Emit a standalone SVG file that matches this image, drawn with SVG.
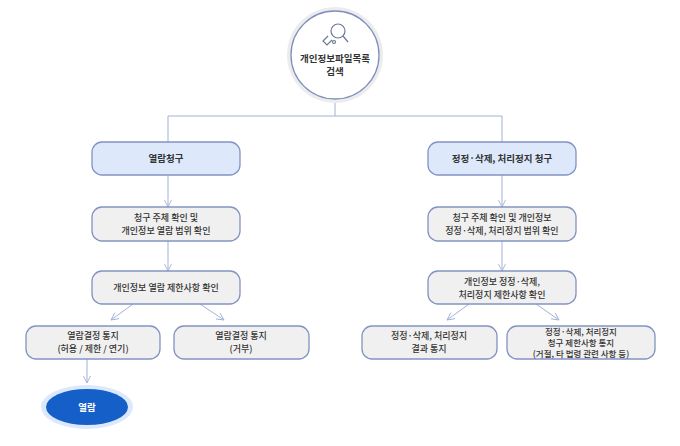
<svg xmlns="http://www.w3.org/2000/svg" width="680" height="446" viewBox="0 0 680 446">
<defs>
<style>
.b{fill:#f0f0f0;stroke:#8293c2;stroke-width:1.3}
.h{fill:#dde9fb;stroke:#8293c2;stroke-width:1.3}
.t{font-family:"Noto Sans CJK KR","Noto Sans",sans-serif;font-size:9px;fill:#333;text-anchor:middle;font-weight:500}
.s{font-size:8.5px}
.k{font-weight:700;font-size:9.5px}
.c{fill:none;stroke:#a3b1d6;stroke-width:1}
</style>
<marker id="a" viewBox="0 0 10 10" refX="9" refY="5" markerWidth="9" markerHeight="9" orient="auto" markerUnits="userSpaceOnUse"><path d="M1,1 L9,5 L1,9" fill="none" stroke="#a3b1d6" stroke-width="1"/></marker>
</defs>
<rect width="680" height="446" fill="#fff"/>
<g id="connectors">
<path class="c" d="M335,100 V116 M168,116 H502 M168,116 V142 M502,116 V142"/>
<path class="c" d="M168,175 V207" marker-end="url(#a)"/>
<path class="c" d="M168,241 V271" marker-end="url(#a)"/>
<path class="c" d="M502,175 V207" marker-end="url(#a)"/>
<path class="c" d="M502,241 V271" marker-end="url(#a)"/>
<path class="c" d="M133,304 L111,320" marker-end="url(#a)"/>
<path class="c" d="M200,304 L224,320" marker-end="url(#a)"/>
<path class="c" d="M469,304 L447,320" marker-end="url(#a)"/>
<path class="c" d="M536,304 L559,320" marker-end="url(#a)"/>
<path class="c" d="M87,359 V383" marker-end="url(#a)"/>
</g>
<g id="root">
<circle cx="335" cy="55" r="48" fill="#ececec"/>
<circle cx="335" cy="55" r="44" fill="#fff" stroke="#7f90c0" stroke-width="1.3"/>
<g fill="none" stroke="#6a7796" stroke-width="1.2">
<circle cx="338" cy="31" r="7"/>
<path d="M343,36 L348,42"/>
<path d="M328,36 L323,41 L327,45 L332,40"/>
<circle cx="334" cy="42" r="1.5"/>
</g>
<text class="t k" x="335" y="62">개인정보파일목록</text>
<text class="t k" x="335" y="75">검색</text>
</g>
<g id="n1"><rect class="h" x="92" y="142" width="148" height="33" rx="10"/><text class="t k" x="166" y="162">열람청구</text></g>
<g id="n2"><rect class="h" x="428" y="142" width="148" height="33" rx="10"/><text class="t k" x="502" y="162">정정·삭제, 처리정지 청구</text></g>
<g id="n3"><rect class="b" x="92" y="207" width="148" height="34" rx="10"/><text class="t" x="166" y="221">청구 주체 확인 및</text><text class="t" x="166" y="234">개인정보 열람 범위 확인</text></g>
<g id="n4"><rect class="b" x="428" y="207" width="148" height="34" rx="10"/><text class="t" x="502" y="221">청구 주체 확인 및 개인정보</text><text class="t" x="502" y="234">정정·삭제, 처리정지 범위 확인</text></g>
<g id="n5"><rect class="b" x="92" y="271" width="148" height="33" rx="10"/><text class="t" x="166" y="291">개인정보 열람 제한사항 확인</text></g>
<g id="n6"><rect class="b" x="428" y="271" width="148" height="33" rx="10"/><text class="t" x="502" y="285">개인정보 정정·삭제,</text><text class="t" x="502" y="298">처리정지 제한사항 확인</text></g>
<g id="n7"><rect class="b" x="26" y="326" width="134" height="33" rx="10"/><text class="t" x="93" y="339">열람결정 통지</text><text class="t" x="93" y="352">(허용 / 제한 / 연기)</text></g>
<g id="n8"><rect class="b" x="174" y="326" width="135" height="33" rx="10"/><text class="t" x="241" y="339">열람결정 통지</text><text class="t" x="241" y="352">(거부)</text></g>
<g id="n9"><rect class="b" x="362" y="326" width="135" height="33" rx="10"/><text class="t" x="429" y="339">정정·삭제, 처리정지</text><text class="t" x="429" y="352">결과 통지</text></g>
<g id="n10"><rect class="b" x="507" y="326" width="148" height="33" rx="10"/><text class="t s" x="581" y="334.5">정정·삭제, 처리정지</text><text class="t s" x="581" y="345.5">청구 제한사항 통지</text><text class="t s" x="581" y="356.5">(거절, 타 법령 관련 사항 등)</text></g>
<g id="n11"><ellipse cx="87" cy="407" rx="46" ry="22" fill="#dce8fb"/><ellipse cx="87" cy="407" rx="41" ry="18" fill="#1560c8"/><text class="t" x="87" y="411" style="fill:#fff;font-weight:700;font-size:9.5px">열람</text></g>
</svg>
